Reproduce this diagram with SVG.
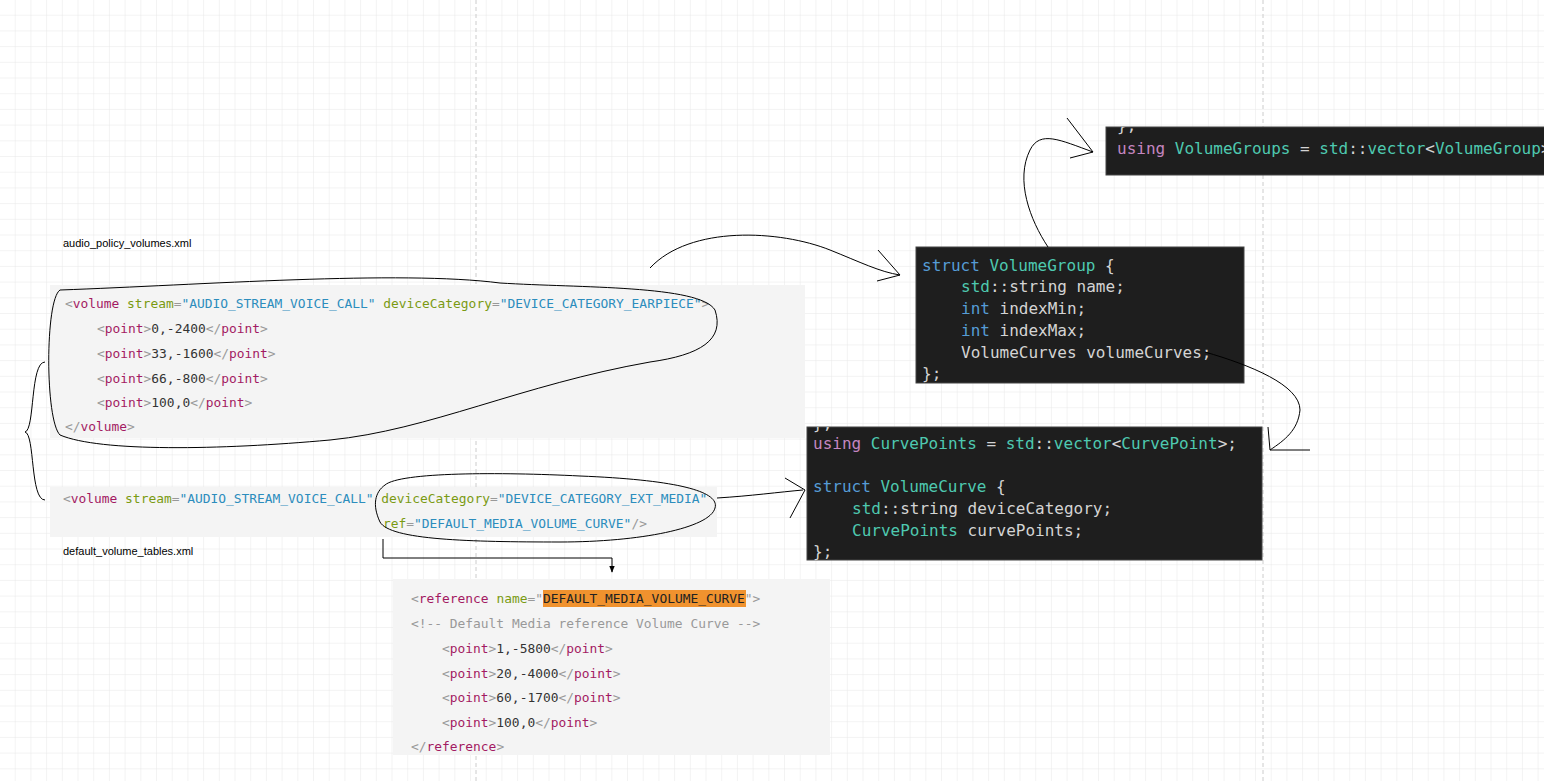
<svg xmlns="http://www.w3.org/2000/svg" width="1544" height="781" viewBox="0 0 1544 781">
<defs>
<pattern id="g" width="15.7" height="15.7" patternUnits="userSpaceOnUse"><path d="M15.7 0V15.7H0" fill="none" stroke="#e8e8e8" stroke-width="1"/></pattern>
<marker id="ah" viewBox="0 0 10 10" refX="9" refY="5" markerWidth="7" markerHeight="7" orient="auto"><path d="M0 1L10 5L0 9Z" fill="#000"/></marker>
<clipPath id="cp1"><rect x="1106" y="127" width="445" height="48"/></clipPath>
<clipPath id="cp2"><rect x="807" y="427" width="455" height="133"/></clipPath>
<style>
.m{font-family:"DejaVu Sans Mono",monospace;font-size:12.9px;fill:#333}
.t{fill:#a31a62}.a{fill:#7a9a12}.v{fill:#2c8dbd}.b{fill:#999}
.c{font-family:"DejaVu Sans Mono",monospace;font-size:16px;fill:#d4d4d4}
.k{fill:#c586c0}.s{fill:#569cd6}.y{fill:#4ec9b0}
.lab{font-family:"Liberation Sans",sans-serif;font-size:11px;fill:#000}
.h{fill:none;stroke:#000;stroke-width:1}
.dk{fill:#1e1e1e;stroke:#444}
</style>
</defs>
<rect width="1544" height="781" fill="#fff"/>
<rect width="1544" height="781" fill="url(#g)"/>
<path d="M476 0V781M1263 0V781" stroke="#ccc" stroke-dasharray="4 3"/>

<g id="labels">
<text class="lab" x="63" y="247">audio_policy_volumes.xml</text>
<text class="lab" x="63" y="555">default_volume_tables.xml</text>
</g>

<g id="xml1">
<rect x="50" y="285" width="755" height="153" fill="#f4f4f4"/>
<text class="m" x="65" y="308"><tspan class="b">&lt;</tspan><tspan class="t">volume</tspan> <tspan class="a">stream</tspan><tspan class="b">=</tspan><tspan class="v">"AUDIO_STREAM_VOICE_CALL"</tspan> <tspan class="a">deviceCategory</tspan><tspan class="b">=</tspan><tspan class="v">"DEVICE_CATEGORY_EARPIECE"</tspan><tspan class="b">&gt;</tspan></text>
<text class="m" x="97" y="333"><tspan class="b">&lt;</tspan><tspan class="t">point</tspan><tspan class="b">&gt;</tspan>0,-2400<tspan class="b">&lt;/</tspan><tspan class="t">point</tspan><tspan class="b">&gt;</tspan></text>
<text class="m" x="97" y="358"><tspan class="b">&lt;</tspan><tspan class="t">point</tspan><tspan class="b">&gt;</tspan>33,-1600<tspan class="b">&lt;/</tspan><tspan class="t">point</tspan><tspan class="b">&gt;</tspan></text>
<text class="m" x="97" y="383"><tspan class="b">&lt;</tspan><tspan class="t">point</tspan><tspan class="b">&gt;</tspan>66,-800<tspan class="b">&lt;/</tspan><tspan class="t">point</tspan><tspan class="b">&gt;</tspan></text>
<text class="m" x="97" y="407"><tspan class="b">&lt;</tspan><tspan class="t">point</tspan><tspan class="b">&gt;</tspan>100,0<tspan class="b">&lt;/</tspan><tspan class="t">point</tspan><tspan class="b">&gt;</tspan></text>
<text class="m" x="65" y="431"><tspan class="b">&lt;/</tspan><tspan class="t">volume</tspan><tspan class="b">&gt;</tspan></text>
</g>

<g id="xml2">
<rect x="50" y="487" width="667" height="50" fill="#f4f4f4"/>
<text class="m" x="63" y="503"><tspan class="b">&lt;</tspan><tspan class="t">volume</tspan> <tspan class="a">stream</tspan><tspan class="b">=</tspan><tspan class="v">"AUDIO_STREAM_VOICE_CALL"</tspan> <tspan class="a">deviceCategory</tspan><tspan class="b">=</tspan><tspan class="v">"DEVICE_CATEGORY_EXT_MEDIA"</tspan></text>
<text class="m" x="383" y="528"><tspan class="a">ref</tspan><tspan class="b">=</tspan><tspan class="v">"DEFAULT_MEDIA_VOLUME_CURVE"</tspan><tspan class="b">/&gt;</tspan></text>
</g>

<g id="xml3">
<rect x="393" y="579" width="437" height="176" fill="#f4f4f4"/>
<rect x="543" y="590" width="203" height="17" fill="#f0922e"/>
<text class="m" x="411" y="603"><tspan class="b">&lt;</tspan><tspan class="t">reference</tspan> <tspan class="a">name</tspan><tspan class="b">="</tspan><tspan fill="#222">DEFAULT_MEDIA_VOLUME_CURVE</tspan><tspan class="b">"&gt;</tspan></text>
<text class="m b" x="411" y="628">&lt;!-- Default Media reference Volume Curve --&gt;</text>
<text class="m" x="442" y="653"><tspan class="b">&lt;</tspan><tspan class="t">point</tspan><tspan class="b">&gt;</tspan>1,-5800<tspan class="b">&lt;/</tspan><tspan class="t">point</tspan><tspan class="b">&gt;</tspan></text>
<text class="m" x="442" y="678"><tspan class="b">&lt;</tspan><tspan class="t">point</tspan><tspan class="b">&gt;</tspan>20,-4000<tspan class="b">&lt;/</tspan><tspan class="t">point</tspan><tspan class="b">&gt;</tspan></text>
<text class="m" x="442" y="702"><tspan class="b">&lt;</tspan><tspan class="t">point</tspan><tspan class="b">&gt;</tspan>60,-1700<tspan class="b">&lt;/</tspan><tspan class="t">point</tspan><tspan class="b">&gt;</tspan></text>
<text class="m" x="442" y="727"><tspan class="b">&lt;</tspan><tspan class="t">point</tspan><tspan class="b">&gt;</tspan>100,0<tspan class="b">&lt;/</tspan><tspan class="t">point</tspan><tspan class="b">&gt;</tspan></text>
<text class="m" x="411" y="751"><tspan class="b">&lt;/</tspan><tspan class="t">reference</tspan><tspan class="b">&gt;</tspan></text>
</g>

<g id="volumeGroups">
<rect class="dk" x="1106" y="127" width="445" height="48"/>
<g clip-path="url(#cp1)"><text class="c" x="1117" y="131">};</text></g>
<text class="c" x="1117" y="154"><tspan class="k">using</tspan> <tspan class="y">VolumeGroups</tspan> = <tspan class="y">std</tspan>::<tspan class="y">vector</tspan>&lt;<tspan class="y">VolumeGroup</tspan>&gt;</text>
</g>

<g id="volumeGroup">
<rect class="dk" x="916" y="247" width="328" height="136"/>
<text class="c" x="922" y="271"><tspan class="s">struct</tspan> <tspan class="y">VolumeGroup</tspan> {</text>
<text class="c" x="961" y="292"><tspan class="y">std</tspan>::string name;</text>
<text class="c" x="961" y="314"><tspan class="s">int</tspan> indexMin;</text>
<text class="c" x="961" y="336"><tspan class="s">int</tspan> indexMax;</text>
<text class="c" x="961" y="358">VolumeCurves volumeCurves;</text>
<text class="c" x="922" y="379">};</text>
</g>

<g id="volumeCurve">
<rect class="dk" x="807" y="427" width="455" height="133"/>
<g clip-path="url(#cp2)"><text class="c" x="813" y="429">};</text></g>
<text class="c" x="813" y="449"><tspan class="k">using</tspan> <tspan class="y">CurvePoints</tspan> = <tspan class="y">std</tspan>::<tspan class="y">vector</tspan>&lt;<tspan class="y">CurvePoint</tspan>&gt;;</text>
<text class="c" x="813" y="492"><tspan class="s">struct</tspan> <tspan class="y">VolumeCurve</tspan> {</text>
<text class="c" x="852" y="514"><tspan class="y">std</tspan>::string deviceCategory;</text>
<text class="c" x="852" y="536"><tspan class="y">CurvePoints</tspan> curvePoints;</text>
<text class="c" x="813" y="557">};</text>
</g>

<g id="connectors">
<path class="h" d="M60 290C200 285 400 270 500 283C580 288 700 285 715 310C725 340 700 355 650 362C520 385 430 430 330 440C220 450 100 452 60 435C45 420 45 300 60 290Z"/>
<path class="h" d="M45 362C30 362 35 430 25 432C35 434 30 500 45 500"/>
<path class="h" d="M385 485C400 472 500 472 580 476C680 480 720 492 715 508C710 528 640 542 560 542C470 542 390 540 380 522C372 505 375 492 385 485Z"/>
<path class="h" d="M717 498C750 496 780 492 803 490M785 478L805 490L790 518"/>
<path fill="none" stroke="#000" d="M383 539V558H612V572" marker-end="url(#ah)"/>
<path class="h" d="M650 268C690 225 780 230 830 250C860 262 880 272 900 275M878 250L900 275L877 281"/>
<path class="h" d="M1048 247C1030 220 1015 180 1030 150C1040 130 1060 140 1093 152M1067 118L1093 152L1070 158"/>
<path class="h" d="M1205 352C1250 365 1300 385 1300 410C1298 430 1285 440 1270 450H1310M1268 427L1270 450"/>
</g>
</svg>
